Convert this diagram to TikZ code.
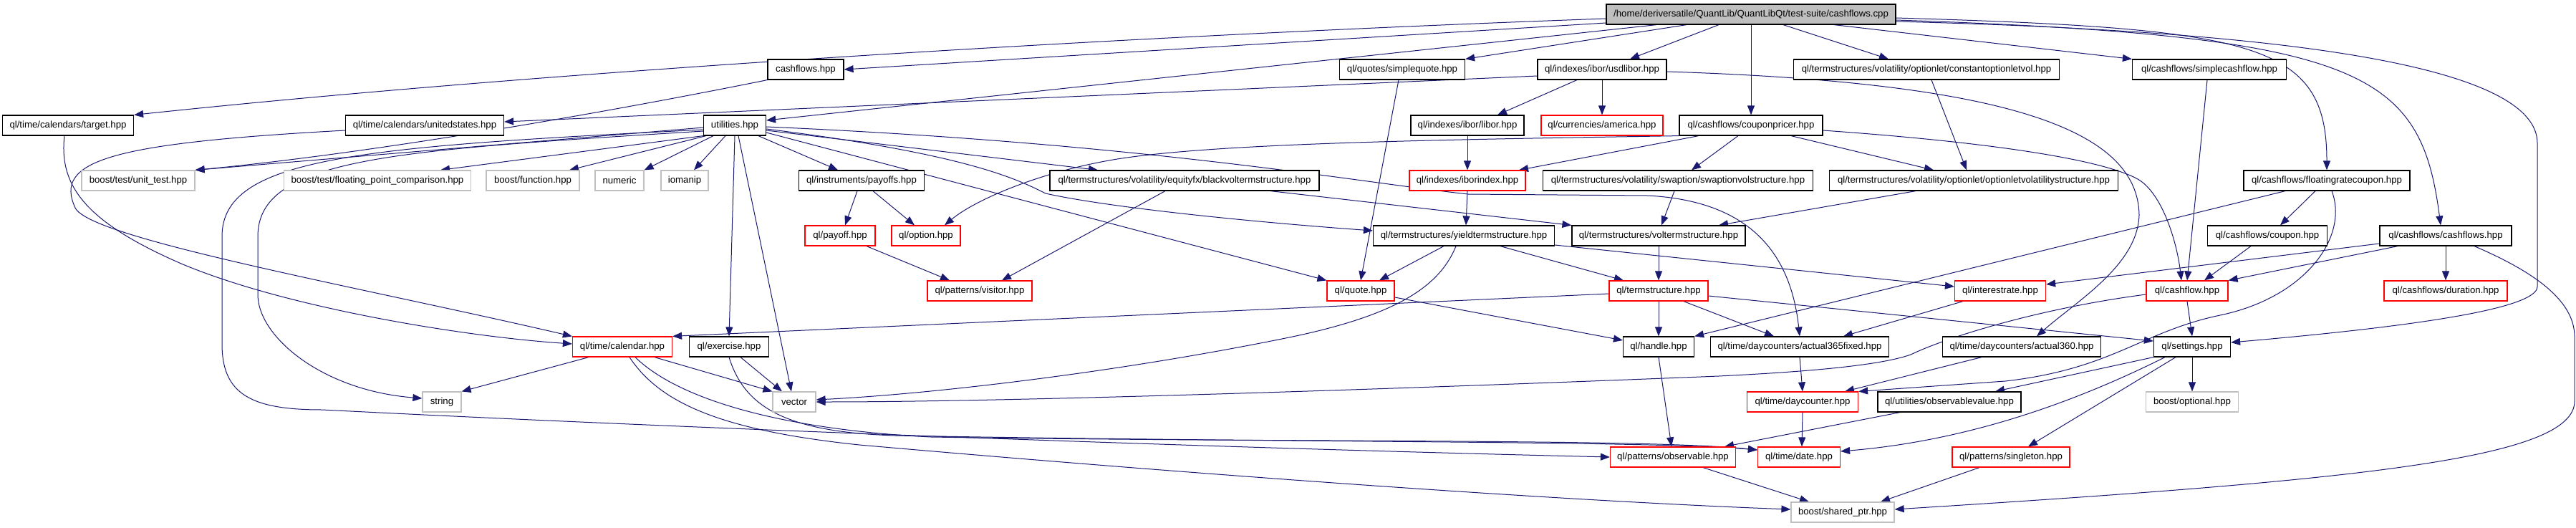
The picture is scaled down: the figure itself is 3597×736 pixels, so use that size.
\documentclass[tikz,border=0pt]{standalone}
\usepackage{fontspec}
\setmainfont{Liberation Sans}
\usetikzlibrary{arrows.meta,backgrounds}
\definecolor{edgeBlue}{RGB}{25,25,112}
\definecolor{boxGrey}{RGB}{191,191,191}

\begin{document}
\begin{tikzpicture}[
    x=1pt, y=1pt,
    fileNode/.style={rectangle, draw=black, fill=white, line width=1.2pt, minimum height=28pt, inner xsep=3pt, inner ysep=0pt, font=\fontsize{13.2}{15}\selectfont},
    truncNode/.style={fileNode, draw=red},
    sysNode/.style={fileNode, draw=boxGrey},
    rootNode/.style={fileNode, fill=boxGrey},
    depArrow/.style={draw=edgeBlue, line width=1pt, -{Triangle[length=13pt, width=10pt]}}
]
\useasboundingbox (0,0) rectangle (3597,-736);

% ================= FILES =================
\node[rootNode, minimum width=404pt] (root) at (2445,-20) {/home/deriversatile/QuantLib/QuantLibQt/test-suite/cashflows.cpp};

\node[fileNode, minimum width=106pt] (cashflowsHpp) at (1125,-97) {cashflows.hpp};
\node[fileNode, minimum width=175pt] (simpleQuote) at (1958,-97) {ql/quotes/simplequote.hpp};
\node[fileNode, minimum width=180pt] (usdLibor) at (2237,-97) {ql/indexes/ibor/usdlibor.hpp};
\node[fileNode, minimum width=371pt] (constOptVol) at (2690,-97) {ql/termstructures/volatility/optionlet/constantoptionletvol.hpp};
\node[fileNode, minimum width=215pt] (simpleCashflow) at (3085,-97) {ql/cashflows/simplecashflow.hpp};

\node[fileNode, minimum width=183pt] (target) at (95,-175) {ql/time/calendars/target.hpp};
\node[fileNode, minimum width=221pt] (unitedStates) at (593,-175) {ql/time/calendars/unitedstates.hpp};
\node[fileNode, minimum width=87pt] (utilities) at (1026,-175) {utilities.hpp};
\node[fileNode, minimum width=158pt] (libor) at (2049,-175) {ql/indexes/ibor/libor.hpp};
\node[truncNode, minimum width=170pt] (america) at (2237,-175) {ql/currencies/america.hpp};
\node[fileNode, minimum width=200pt] (couponPricer) at (2445,-175) {ql/cashflows/couponpricer.hpp};

\node[sysNode, minimum width=158pt] (unitTest) at (193,-252) {boost/test/unit\_test.hpp};
\node[sysNode, minimum width=261pt] (fpComparison) at (527,-252) {boost/test/floating\_point\_comparison.hpp};
\node[sysNode, minimum width=130pt] (boostFunction) at (744,-252) {boost/function.hpp};
\node[sysNode, minimum width=68pt] (numeric) at (865,-252) {numeric};
\node[sysNode, minimum width=66pt] (iomanip) at (956,-252) {iomanip};
\node[fileNode, minimum width=175pt] (payoffs) at (1203,-252) {ql/instruments/payoffs.hpp};
\node[fileNode, minimum width=376pt] (blackVol) at (1654,-252) {ql/termstructures/volatility/equityfx/blackvoltermstructure.hpp};
\node[truncNode, minimum width=162pt] (iborIndex) at (2049,-252) {ql/indexes/iborindex.hpp};
\node[fileNode, minimum width=377pt] (swaptionVol) at (2343,-252) {ql/termstructures/volatility/swaption/swaptionvolstructure.hpp};
\node[fileNode, minimum width=403pt] (optionletVol) at (2756,-252) {ql/termstructures/volatility/optionlet/optionletvolatilitystructure.hpp};
\node[fileNode, minimum width=232pt] (floatingCoupon) at (3249,-252) {ql/cashflows/floatingratecoupon.hpp};

\node[truncNode, minimum width=98pt] (payoff) at (1173,-329) {ql/payoff.hpp};
\node[truncNode, minimum width=96pt] (option) at (1293,-329) {ql/option.hpp};
\node[fileNode, minimum width=253pt] (yieldTs) at (2044,-329) {ql/termstructures/yieldtermstructure.hpp};
\node[fileNode, minimum width=242pt] (volTs) at (2316,-329) {ql/termstructures/voltermstructure.hpp};
\node[fileNode, minimum width=167pt] (coupon) at (3166,-329) {ql/cashflows/coupon.hpp};
\node[fileNode, minimum width=184pt] (cfCashflows) at (3415,-329) {ql/cashflows/cashflows.hpp};

\node[truncNode, minimum width=146pt] (visitor) at (1368,-406) {ql/patterns/visitor.hpp};
\node[truncNode, minimum width=94pt] (quote) at (1900,-406) {ql/quote.hpp};
\node[truncNode, minimum width=138pt] (termStructure) at (2316,-406) {ql/termstructure.hpp};
\node[truncNode, minimum width=127pt] (interestRate) at (2793,-406) {ql/interestrate.hpp};
\node[truncNode, minimum width=114pt] (cashflow) at (3054,-406) {ql/cashflow.hpp};
\node[truncNode, minimum width=172pt] (duration) at (3415,-406) {ql/cashflows/duration.hpp};

\node[truncNode, minimum width=139pt] (calendar) at (869,-484) {ql/time/calendar.hpp};
\node[fileNode, minimum width=111pt] (exercise) at (1018,-484) {ql/exercise.hpp};
\node[fileNode, minimum width=99pt] (handle) at (2316,-484) {ql/handle.hpp};
\node[fileNode, minimum width=249pt] (act365) at (2513,-484) {ql/time/daycounters/actual365fixed.hpp};
\node[fileNode, minimum width=221pt] (act360) at (2823,-484) {ql/time/daycounters/actual360.hpp};
\node[fileNode, minimum width=107pt] (settings) at (3061,-484) {ql/settings.hpp};

\node[sysNode, minimum width=54pt] (string) at (617,-561) {string};
\node[sysNode, minimum width=60pt] (vector) at (1109,-561) {vector};
\node[truncNode, minimum width=155pt] (dayCounter) at (2517,-561) {ql/time/daycounter.hpp};
\node[fileNode, minimum width=200pt] (obsValue) at (2722,-561) {ql/utilities/observablevalue.hpp};
\node[sysNode, minimum width=129pt] (optional) at (3061,-561) {boost/optional.hpp};

\node[truncNode, minimum width=175pt] (observable) at (2336,-638) {ql/patterns/observable.hpp};
\node[truncNode, minimum width=115pt] (date) at (2512,-638) {ql/time/date.hpp};
\node[truncNode, minimum width=164pt] (singleton) at (2808,-638) {ql/patterns/singleton.hpp};

\node[sysNode, minimum width=144pt] (sharedPtr) at (2573,-715) {boost/shared\_ptr.hpp};

% ================= INCLUDES =================
\begin{scope}[on background layer]
% root file
\draw[depArrow] ([yshift=-6pt]root.west) .. controls +(-618,-22) and +(615,65) .. (target.north east);
\draw[depArrow] ([yshift=-12pt]root.west) -- (cashflowsHpp.east);
\draw[depArrow] ([xshift=-132pt]root.south) -- ([yshift=7pt]utilities.east);
\draw[depArrow] ([xshift=-90pt]root.south) -- (simpleQuote.north east);
\draw[depArrow] ([xshift=-45pt]root.south) -- ([xshift=39pt]usdLibor.north);
\draw[depArrow] (root.south) -- (couponPricer.north);
\draw[depArrow] ([xshift=45pt]root.south) -- ([xshift=-53pt]constOptVol.north);
\draw[depArrow] ([xshift=116pt]root.south) -- (simpleCashflow.north west);
\draw[depArrow] ([yshift=-5pt]root.east) .. controls +(503,-15) and +(0,178) .. (floatingCoupon.north);
\draw[depArrow] ([yshift=-8pt]root.east) .. controls +(653,-22) and +(-28,215) .. ([xshift=-7pt]cfCashflows.north);
\draw[depArrow] ([yshift=-10pt]root.east) .. controls +(600,-15) and +(0,100) .. (3543,-200) -- (3543,-400) .. controls +(0,-30) and +(265,23) .. ([yshift=6pt]settings.east);

% test-suite headers
\draw[depArrow] (cashflowsHpp.south west) .. controls +(-238,-48) and +(242,23) .. (unitTest.north east);
\draw[depArrow] ([yshift=-3pt]utilities.west) -- (unitTest.north east);
\draw[depArrow] ([yshift=-6pt]utilities.west) .. controls (500,-205) and (310,-220) .. (310,-330) -- (310,-480) .. controls (310,-550) and (350,-572) .. (450,-572) .. controls (1000,-600) and (1700,-625) .. (observable.west);
\draw[depArrow] ([yshift=-8pt]utilities.west) .. controls (550,-210) and (360,-220) .. (360,-330) -- (360,-411) .. controls (360,-470) and (450,-545) .. ([yshift=5pt]string.west);
\draw[depArrow] (utilities.south west) -- ([xshift=88pt]fpComparison.north);
\draw[depArrow] ([xshift=-40pt]utilities.south) -- ([xshift=51pt]boostFunction.north);
\draw[depArrow] ([xshift=-30pt]utilities.south) -- (numeric.north east);
\draw[depArrow] ([xshift=-13pt]utilities.south) -- ([xshift=13pt]iomanip.north);
\draw[depArrow] (utilities.south) -- (exercise.north);
\draw[depArrow] ([xshift=5pt]utilities.south) -- ([xshift=-4pt]vector.north);
\draw[depArrow] ([xshift=33pt]utilities.south) -- ([xshift=-33pt]payoffs.north);
\draw[depArrow] ([yshift=-7pt]utilities.east) -- ([xshift=-121pt]blackVol.north);
\draw[depArrow] ([yshift=-5pt]utilities.east) .. controls (1350,-215) and (1420,-250) .. (1460,-270) .. controls (1550,-290) and (1750,-310) .. ([yshift=7pt]yieldTs.west);
\draw[depArrow] ([yshift=-10pt]utilities.east) -- (quote.north west);
\draw[depArrow] ([yshift=-2pt]utilities.east) .. controls (1600,-200) and (1900,-255) .. (2050,-271) -- (2300,-273) .. controls (2440,-280) and (2500,-350) .. (act365.north);

% calendars and indexes
\draw[depArrow] ([yshift=-9pt]usdLibor.west) -- ([yshift=5pt]unitedStates.east);
\draw[depArrow] ([xshift=-35pt]usdLibor.south) -- ([xshift=42pt]libor.north);
\draw[depArrow] (usdLibor.south) -- (america.north);
\draw[depArrow] ([yshift=-3pt]usdLibor.east) .. controls (2800,-115) and (2985,-180) .. (2987,-300) .. controls (2985,-370) and (2900,-420) .. ([xshift=21pt]act360.north);
\draw[depArrow] ([xshift=-5pt]target.south) .. controls (82,-260) and (120,-310) .. (253,-368) .. controls (400,-430) and (650,-470) .. ([yshift=4pt]calendar.west);
\draw[depArrow] ([yshift=-7pt]unitedStates.west) .. controls (150,-200) and (75,-225) .. (105,-290) .. controls (125,-333) and (500,-400) .. (calendar.north west);
\draw[depArrow] (libor.south) -- (iborIndex.north);

% coupon pricer
\draw[depArrow] ([xshift=-73pt]couponPricer.south) -- ([xshift=72pt]iborIndex.north);
\draw[depArrow] ([xshift=-18pt]couponPricer.south) -- ([xshift=19pt]swaptionVol.north);
\draw[depArrow] ([xshift=56pt]couponPricer.south) -- ([xshift=-56pt]optionletVol.north);
\draw[depArrow] (couponPricer.south west) .. controls (2000,-195) and (1700,-200) .. (1560,-222) .. controls (1450,-240) and (1360,-280) .. ([xshift=26pt]option.north);
\draw[depArrow] ([yshift=-7pt]couponPricer.east) .. controls (2800,-200) and (2940,-225) .. (2985,-250) .. controls (3020,-270) and (3040,-340) .. ([xshift=-8pt]cashflow.north);

% volatility and instruments
\draw[depArrow] ([xshift=7pt]constOptVol.south) -- ([xshift=-10pt]optionletVol.north);
\draw[depArrow] ([xshift=-3pt]simpleCashflow.south) -- (cashflow.north);
\draw[depArrow] ([xshift=-5pt]simpleQuote.south) -- (quote.north);
\draw[depArrow] ([xshift=-6pt]payoffs.south) -- ([xshift=7pt]payoff.north);
\draw[depArrow] ([xshift=16pt]payoffs.south) -- ([xshift=-16pt]option.north);
\draw[depArrow] ([xshift=37pt]payoff.south) -- ([xshift=-42pt]visitor.north);
\draw[depArrow] ([xshift=-27pt]blackVol.south) -- ([xshift=31pt]visitor.north);
\draw[depArrow] ([xshift=120pt]blackVol.south) -- (volTs.north west);
\draw[depArrow] (iborIndex.south) -- ([xshift=3pt]yieldTs.north);
\draw[depArrow] ([xshift=-5pt]swaptionVol.south) -- ([xshift=4pt]volTs.north);
\draw[depArrow] ([xshift=-81pt]optionletVol.south) -- ([xshift=84pt]volTs.north);

% cashflows
\draw[depArrow] ([xshift=-16pt]floatingCoupon.south) -- ([xshift=18pt]coupon.north);
\draw[depArrow] ([xshift=-58pt]floatingCoupon.south) -- (handle.north east);
\draw[depArrow] ([xshift=7pt]floatingCoupon.south) .. controls (3280,-330) and (3220,-415) .. (3100,-440) .. controls (2990,-463) and (2950,-515) .. (2800,-532) -- (dayCounter.north east);
\draw[depArrow] ([xshift=-23pt]coupon.south) -- ([xshift=24pt]cashflow.north);
\draw[depArrow] ([yshift=-11pt]cfCashflows.west) -- ([yshift=9pt]interestRate.east);
\draw[depArrow] ([xshift=-67pt]cfCashflows.south) -- (cashflow.north east);
\draw[depArrow] (cfCashflows.south) -- (duration.north);
\draw[depArrow] ([xshift=40pt]cfCashflows.south) .. controls (3540,-380) and (3595,-420) .. (3595,-470) -- (3595,-560) .. controls (3595,-640) and (3300,-670) .. ([yshift=4pt]sharedPtr.east);
\draw[depArrow] (cashflow.south) -- (settings.north);
\draw[depArrow] ([yshift=-5pt]cashflow.west) .. controls (2850,-430) and (2720,-470) .. (2668,-495) .. controls (2620,-512) and (2500,-520) .. (2400,-525) .. controls (1900,-545) and (1400,-561) .. (vector.east);

% term structures
\draw[depArrow] ([xshift=-28pt]yieldTs.south) -- ([xshift=26pt]quote.north);
\draw[depArrow] ([xshift=51pt]yieldTs.south) -- ([xshift=-49pt]termStructure.north);
\draw[depArrow] ([xshift=-11pt]yieldTs.south) .. controls (2010,-400) and (1950,-440) .. (1800,-471) .. controls (1560,-520) and (1300,-550) .. ([yshift=3pt]vector.east);
\draw[depArrow] ([yshift=-13pt]yieldTs.east) -- ([yshift=6pt]interestRate.west);
\draw[depArrow] (volTs.south) -- (termStructure.north);
\draw[depArrow] ([yshift=-9pt]quote.east) -- ([yshift=9pt]handle.west);
\draw[depArrow] ([yshift=-4pt]termStructure.west) -- (calendar.north east);
\draw[depArrow] (termStructure.south) -- (handle.north);
\draw[depArrow] ([xshift=35pt]termStructure.south) -- ([xshift=-36pt]act365.north);
\draw[depArrow] ([yshift=-7pt]termStructure.east) -- ([yshift=8pt]settings.west);
\draw[depArrow] ([xshift=-52pt]interestRate.south) -- ([xshift=61pt]act365.north);

% time and patterns
\draw[depArrow] ([xshift=-47pt]calendar.south) -- (string.north east);
\draw[depArrow] ([xshift=45pt]calendar.south) -- (vector.north west);
\draw[depArrow] ([xshift=18pt]calendar.south) .. controls (950,-560) and (1100,-600) .. (1300,-610) .. controls (1800,-618) and (2300,-612) .. ([yshift=10pt]date.west);
\draw[depArrow] ([xshift=10pt]calendar.south) .. controls (920,-560) and (1000,-600) .. (1200,-621) .. controls (1700,-665) and (2200,-700) .. ([yshift=4pt]sharedPtr.west);
\draw[depArrow] ([xshift=16pt]exercise.south) -- ([xshift=-17pt]vector.north);
\draw[depArrow] (exercise.south) .. controls (1040,-570) and (1100,-603) .. (1250,-608) .. controls (1800,-618) and (2300,-615) .. ([yshift=10pt]date.west);
\draw[depArrow] (handle.south) -- ([xshift=-2pt]observable.north);
\draw[depArrow] (act365.south) -- (dayCounter.north);
\draw[depArrow] ([xshift=-56pt]act360.south) -- ([xshift=59pt]dayCounter.north);
\draw[depArrow] (settings.south) -- (optional.north);
\draw[depArrow] (settings.south west) -- ([xshift=64pt]obsValue.north);
\draw[depArrow] ([xshift=-38pt]settings.south) .. controls (2900,-560) and (2750,-615) .. ([yshift=8pt]date.east);
\draw[depArrow] ([xshift=-23pt]settings.south) -- ([xshift=24pt]singleton.north);
\draw[depArrow] (dayCounter.south) -- ([xshift=4pt]date.north);
\draw[depArrow] ([xshift=-69pt]obsValue.south) -- ([xshift=72pt]observable.north);
\draw[depArrow] ([xshift=42pt]observable.south) -- ([xshift=-47pt]sharedPtr.north);
\draw[depArrow] ([xshift=-44pt]singleton.south) -- ([xshift=53pt]sharedPtr.north);
\end{scope}

\end{tikzpicture}
\end{document}
